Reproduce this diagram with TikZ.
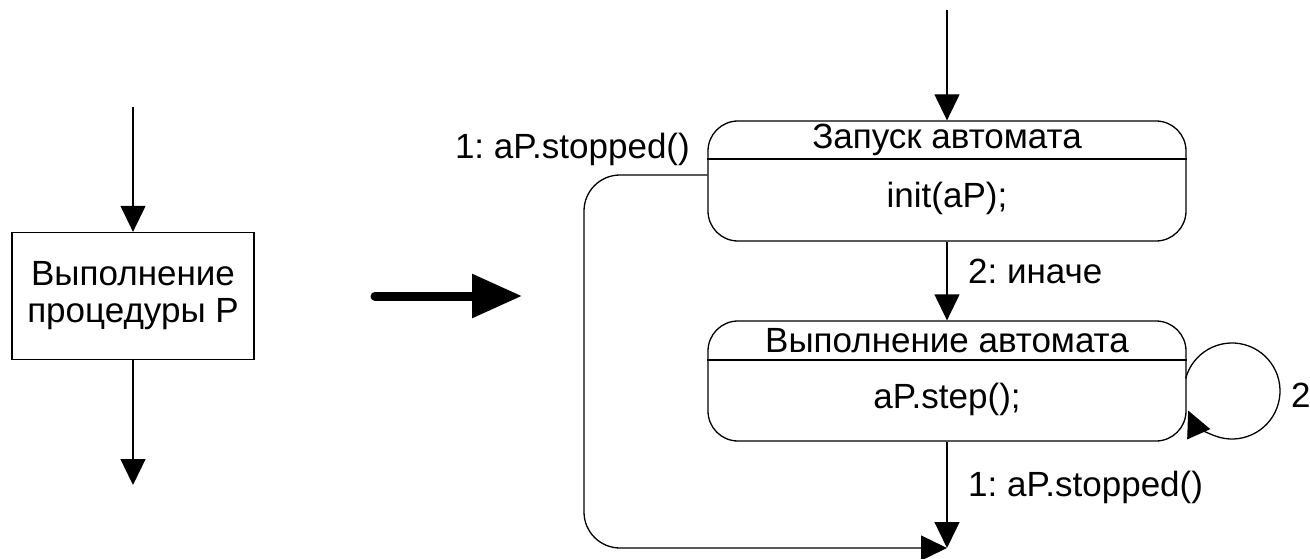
\documentclass[tikz,border=0pt]{standalone}
\usepackage{fontspec}
\setmainfont{Liberation Sans}
\usetikzlibrary{arrows.meta}
\frenchspacing
\begin{document}
\begin{tikzpicture}[x=1pt,y=1pt,
  every node/.style={font=\fontsize{35}{40}\selectfont},
  flow/.style={line width=1.3pt,-{Triangle[length=26pt,width=25pt]}},
  plain/.style={line width=1.3pt},
  statebox/.style={draw,line width=1.3pt,rounded corners=30pt,
    minimum width=478pt,minimum height=120pt,inner sep=0pt},
  procbox/.style={draw,line width=1.3pt,minimum width=242pt,minimum height=127pt,
    align=center,inner sep=0pt,font=\fontsize{35}{37}\selectfont}
]
\useasboundingbox (0,0) rectangle (1310,558);

% ordinary procedure call
\coordinate (pin) at (133,451);
\node[procbox] (proc) at (133,262) {Выполнение\\процедуры Р};
\coordinate (pout) at (133,73);
\draw[flow] (pin) -- (proc.north);
\draw[flow] (proc.south) -- (pout);

% transformation arrow
\coordinate (ta) at (375,262);
\coordinate (tb) at (522,262);
\draw[line width=9pt,line cap=round,-{Triangle[length=50pt,width=42pt]}] (ta) -- (tb);

% state: start
\node[statebox] (s1) at (947,377) {};
\coordinate (d1) at (947,399);
\draw[plain] (s1.west |- d1) -- (s1.east |- d1);
\node (s1a) at (947,418) {Запуск автомата};
\node (s1b) at (947,360) {init(aP);};

% state: run
\node[statebox] (s2) at (947,177) {};
\coordinate (d2) at (947,198);
\draw[plain] (s2.west |- d2) -- (s2.east |- d2);
\node (s2a) at (947,217) {Выполнение автомата};
\node (s2b) at (947,159) {aP.step();};

% transitions
\coordinate (sin) at (947,548);
\coordinate (fin) at (947,10);
\coordinate (lc) at (584,10);
\coordinate (slc) at (1232,167);
\draw[flow] (sin) -- (s1.north);
\draw[flow] (s1.south) -- (s2.north);
\draw[flow] (s2.south) -- (fin);
\draw[flow,rounded corners=36pt] (s1.west |- 0,383) -| (lc) -- (fin);
\draw[flow] ([shift={(165:48pt)}]slc) arc[start angle=165,end angle=-156,radius=48pt];

% transition labels
\node[anchor=east,inner sep=0pt] (l1) at (690,409) {1: aP.stopped()};
\node[anchor=west,inner sep=0pt] (l2) at (968,287) {2: иначе};
\node[anchor=west,inner sep=0pt] (l3) at (968,71) {1: aP.stopped()};
\node[anchor=west,inner sep=0pt] (l4) at (1291,163) {2};
\end{tikzpicture}
\end{document}
